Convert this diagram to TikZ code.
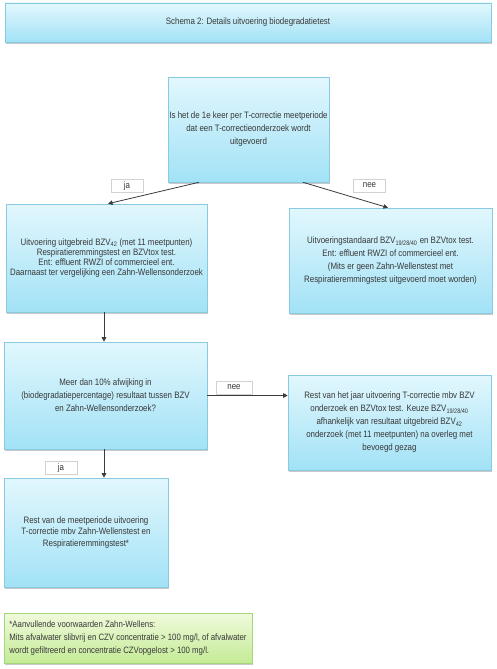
\documentclass[tikz,border=0pt]{standalone}
\usepackage{fontspec}
\setmainfont{Liberation Sans}[FakeStretch=0.85]
\usetikzlibrary{shadows,arrows.meta,calc}
\definecolor{bluetop}{HTML}{E2F7FD}
\definecolor{bluebot}{HTML}{A2E2F6}
\definecolor{boxborder}{HTML}{88CBE0}
\definecolor{greentop}{HTML}{F0FADC}
\definecolor{greenbot}{HTML}{C4EB96}
\definecolor{greenborder}{HTML}{A6D67A}
\definecolor{txt}{HTML}{383838}
\definecolor{arrowc}{HTML}{3C3C3C}
\begin{document}
\begin{tikzpicture}[x=1pt,y=-1pt,
  box/.style={draw=boxborder, line width=0.6pt, top color=bluetop, bottom color=bluebot,
    drop shadow={shadow xshift=0.6pt, shadow yshift=-1.8pt, opacity=0.35, fill=black!60},
    align=center, inner sep=0pt, text=txt, font=\fontsize{9.3}{13}\selectfont},
  gbox/.style={box, draw=greenborder, top color=greentop, bottom color=greenbot},
  lbl/.style={draw=gray!35, fill=white, minimum width=32pt, minimum height=13pt,
    inner sep=0pt, text=txt, font=\fontsize{9.3}{10}\selectfont},
  arr/.style={draw=arrowc, line width=0.8pt, -{Triangle[length=4.5pt,width=4.5pt]}}]
\useasboundingbox (0,0) rectangle (497,669);
\fill[white] (0,0) rectangle (497,669);

\node[box, minimum width=486, minimum height=39] (title) at (248,22.5)
  {Schema 2: Details uitvoering biodegradatietest};

\node[box, minimum width=161, minimum height=105] (q1) at (248.5,129.5)
  {Is het de 1e keer per T-correctie meetperiode\\dat een T-correctieonderzoek wordt\\uitgevoerd};

\node[box, minimum width=201, minimum height=108, font=\fontsize{9.3}{10}\selectfont] (b1) at (106.5,258)
  {Uitvoering uitgebreid BZV\textsubscript{42} (met 11 meetpunten)\\Respiratieremmingstest en BZVtox test.\\Ent: effluent RWZI of commercieel ent.\\Daarnaast ter vergelijking een Zahn-Wellensonderzoek};

\node[box, minimum width=203, minimum height=105] (b2) at (390.5,260.5)
  {Uitvoeringstandaard BZV\textsubscript{19/28/40} en BZVtox test.\\Ent: effluent RWZI of commercieel ent.\\(Mits er geen Zahn-Wellenstest met\\Respiratieremmingstest uitgevoerd moet worden)};

\node[box, minimum width=203, minimum height=107] (q2) at (105.5,395.5)
  {Meer dan 10\% afwijking in\\(biodegradatiepercentage) resultaat tussen BZV\\en Zahn-Wellensonderzoek?};

\node[box, minimum width=203, minimum height=95] (b3) at (389.5,422.5)
  {Rest van het jaar uitvoering T-correctie mbv BZV\\onderzoek en BZVtox test. Keuze BZV\textsubscript{19/28/40}\\afhankelijk van resultaat uitgebreid BZV\textsubscript{42}\\onderzoek (met 11 meetpunten) na overleg met\\bevoegd gezag};

\node[box, minimum width=164, minimum height=109, font=\fontsize{9.3}{11.5}\selectfont] (b4) at (86,532.5)
  {Rest van de meetperiode uitvoering\\T-correctie mbv Zahn-Wellenstest en\\Respiratieremmingstest*};

\node[gbox, minimum width=248, minimum height=50, align=left, font=\fontsize{9.2}{13}\selectfont] (foot) at (128,638)
  {*Aanvullende voorwaarden Zahn-Wellens:\\Mits afvalwater slibvrij en CZV concentratie > 100 mg/l, of afvalwater\\wordt gefiltreerd en concentratie CZVopgelost > 100 mg/l.};

\draw[arr] ([xshift=-49.5]q1.south) -- ([xshift=1.5]b1.north);
\draw[arr] ([xshift=54.5]q1.south) -- ([xshift=-2.5]b2.north);
\draw[arr] ([xshift=-2.5]b1.south) -- ([xshift=-1.5]q2.north);
\draw[arr] (q2.east) -- (q2.east -| b3.west);
\draw[arr] ([xshift=-1.5]q2.south) -- ([xshift=-1.5]q2.south |- b4.north);

\node[lbl] (ja1) at (127,186) {ja};
\node[lbl] (nee1) at (369.5,185.5) {nee};
\node[lbl, minimum width=36] (nee2) at (234,387.5) {nee};
\node[lbl] (ja2) at (61,468) {ja};
\end{tikzpicture}
\end{document}
